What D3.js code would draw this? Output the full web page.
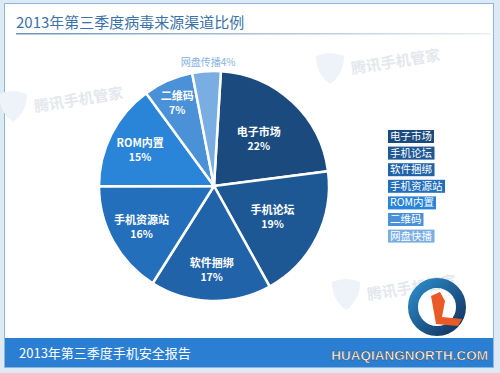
<!DOCTYPE html>
<html>
<head>
<meta charset="utf-8">
<script src="https://cdn.jsdelivr.net/npm/d3@7"></script>
<style>
  body { margin: 0; background: #dde9f4; }
  svg { display: block; font-family: "Noto Sans CJK SC", "Noto Sans", sans-serif; }
</style>
</head>
<body>
<div id="chart"></div>
<script>
// data
const channels = ["电子市场", "手机论坛", "软件捆绑", "手机资源站", "ROM内置", "二维码", "网盘传播"];
const shares = [22, 19, 17, 16, 15, 7, 4];
const legendNames = ["电子市场", "手机论坛", "软件捆绑", "手机资源站", "ROM内置", "二维码", "网盘快播"];
const sliceColors = ["#1b4b7e", "#1e5894", "#2163a9", "#236fbc", "#2a84d8", "#4b91d8", "#7aaee3"];

const width = 500, height = 373;
const cx = 214, cy = 186, r = 115;

const svg = d3.select("#chart").append("svg")
  .attr("width", width)
  .attr("height", height);

// frame
svg.append("rect")
  .attr("x", 4.5).attr("y", 3.5)
  .attr("width", 489).attr("height", 364)
  .attr("fill", "#fff")
  .attr("stroke", "#8db6de");

// title + underline
svg.append("text")
  .attr("x", 16).attr("y", 28)
  .attr("fill", "#3d72a8")
  .attr("font-size", 15)
  .text("2013年第三季度病毒来源渠道比例");

const defs = svg.append("defs");
const grad = defs.append("linearGradient").attr("id", "uline");
grad.append("stop").attr("offset", "0%").attr("stop-color", "#6f93b8");
grad.append("stop").attr("offset", "100%").attr("stop-color", "#e8eef5");
svg.append("rect")
  .attr("x", 16).attr("y", 33)
  .attr("width", 474).attr("height", 1.5)
  .attr("fill", "url(#uline)");

// faint watermarks (shield + name)
const marks = [[35, 112], [352, 74], [368, 300]];
marks.forEach(m => {
  svg.append("path")
    .attr("transform", `translate(${m[0] - 22},${m[1] - 8})`)
    .attr("d", "M-14,-10 Q0,-16 14,-10 Q14,8 0,18 Q-14,8 -14,-10 Z")
    .attr("fill", "#eef3f9");
  svg.append("text")
    .attr("transform", `translate(${m[0]},${m[1]}) rotate(-9)`)
    .attr("fill", "#e4e8ed")
    .attr("font-size", 15)
    .attr("font-weight", "bold")
    .text("腾讯手机管家");
});

// pie
const start = 0.06;
const pie = d3.pie().sort(null).value(d => d.v)
  .startAngle(start).endAngle(start + 2 * Math.PI);
const slices = pie(channels.map((c, i) => ({ name: c, v: shares[i], color: sliceColors[i] })));
const arc = d3.arc().innerRadius(0).outerRadius(r);

// label distance: big right-hand slices sit nearer the centre, thin ones further out
function labelRadius(d) {
  if (d.data.v < 10) return r * 0.8;
  if (d.index < 2) return r * 0.57;
  return r * 0.72;
}

const g = svg.append("g").attr("transform", `translate(${cx},${cy})`);

g.selectAll("path")
  .data(slices)
  .join("path")
  .attr("d", arc)
  .attr("fill", d => d.data.color)
  .attr("stroke", "#fff")
  .attr("stroke-width", 2.5);

// inside labels for all but the smallest slice
const inside = slices.filter(d => d.data.name != "网盘传播");
const lab = g.selectAll("g.lab")
  .data(inside)
  .join("g")
  .attr("class", "lab")
  .attr("transform", d => {
    const lr = labelRadius(d);
    return `translate(${d3.arc().innerRadius(lr).outerRadius(lr).centroid(d)})`;
  });

lab.append("text")
  .attr("text-anchor", "middle")
  .attr("y", -2)
  .attr("fill", "#fff")
  .attr("font-size", 11)
  .attr("font-weight", "bold")
  .text(d => d.data.name);

lab.append("text")
  .attr("text-anchor", "middle")
  .attr("y", 12)
  .attr("fill", "#fff")
  .attr("font-size", 10.5)
  .attr("font-weight", "bold")
  .text(d => d.data.v + "%");

// small slice label sits above the pie
const small = slices.find(d => d.data.name == "网盘传播");
const sp = d3.arc().innerRadius(r + 5).outerRadius(r + 5).centroid(small);
g.append("text")
  .attr("x", sp[0] + 2).attr("y", sp[1])
  .attr("text-anchor", "middle")
  .attr("fill", "#86b2de")
  .attr("font-size", 10)
  .text(small.data.name + small.data.v + "%");

// legend
const legend = svg.append("g").attr("transform", "translate(388,130)");
const rows = legend.selectAll("g")
  .data(legendNames)
  .join("g")
  .attr("transform", (d, i) => `translate(0,${i * 16.6})`);

rows.append("text")
  .attr("x", 2).attr("y", 10)
  .attr("fill", "#fff")
  .attr("font-size", 10.5)
  .text(d => d)
  .each(function (d, i) {
    const bb = this.getBBox();
    d3.select(this.parentNode).insert("rect", "text")
      .attr("x", 0).attr("y", 0)
      .attr("width", bb.width + 4).attr("height", 13)
      .attr("fill", sliceColors[i]);
  });

// footer bar
svg.append("rect")
  .attr("x", 5).attr("y", 338)
  .attr("width", 488).attr("height", 29)
  .attr("fill", "#2b7fd3");

svg.append("text")
  .attr("x", 19).attr("y", 358)
  .attr("fill", "#fff")
  .attr("font-size", 13)
  .text("2013年第三季度手机安全报告");

// site logo watermark
const ring = defs.append("linearGradient").attr("id", "ring")
  .attr("x1", "0").attr("y1", "0").attr("x2", "1").attr("y2", "1");
ring.append("stop").attr("offset", "0%").attr("stop-color", "#2b8bc8");
ring.append("stop").attr("offset", "100%").attr("stop-color", "#13325e");

const logo = svg.append("g").attr("transform", "translate(437,307)");
logo.append("circle")
  .attr("r", 24)
  .attr("fill", "none")
  .attr("stroke", "url(#ring)")
  .attr("stroke-width", 10);
logo.append("path")
  .attr("d", "M-6,-11 L3,-15 L8,-6 L5,10 L25,12 L21,19 L-1,17 Z")
  .attr("fill", "#ea5a26");

svg.append("text")
  .attr("x", 488).attr("y", 360)
  .attr("text-anchor", "end")
  .attr("fill", "#fff")
  .attr("stroke", "#444")
  .attr("stroke-width", 0.5)
  .attr("font-family", "'Liberation Sans', sans-serif")
  .attr("font-weight", "bold")
  .attr("font-size", 13.5)
  .text("HUAQIANGNORTH.COM");
</script>
</body>
</html>
